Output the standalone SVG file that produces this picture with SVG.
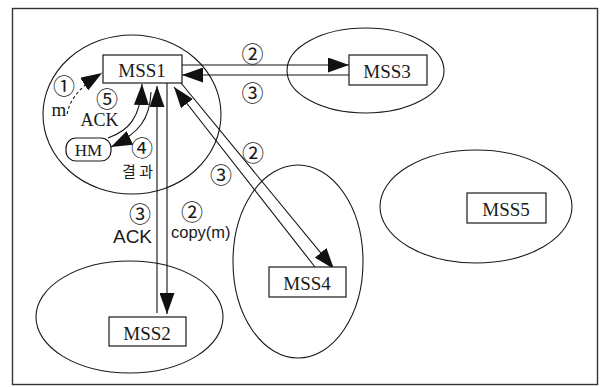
<svg xmlns="http://www.w3.org/2000/svg" width="604" height="387" viewBox="0 0 604 387">
  <style>
    .cell { fill: none; stroke: #1a1a1a; stroke-width: 1.1; }
    .box { fill: #fff; stroke: #1a1a1a; stroke-width: 1.2; }
    .pill { fill: #fff; stroke: #1a1a1a; stroke-width: 1.2; }
    .name { font-family: "Liberation Serif", "Times New Roman", serif; font-size: 19px; fill: #1a1a1a; text-anchor: middle; }
    .line { fill: none; stroke: #111; stroke-width: 1.1; }
    .dash { fill: none; stroke: #111; stroke-width: 1.1; stroke-dasharray: 3 2.5; }
    .num { font-family: "Noto Sans CJK KR", "DejaVu Sans", sans-serif; font-size: 22px; fill: #1a1a1a; text-anchor: middle; dominant-baseline: central; }
    .serif { font-family: "Liberation Serif", "Times New Roman", serif; fill: #1a1a1a; }
    .sans { font-family: "Liberation Sans", Arial, sans-serif; fill: #1a1a1a; }
    .kr { font-family: "Noto Sans CJK KR", sans-serif; font-size: 15px; fill: #1a1a1a; }
  </style>
  <defs>
    <marker id="head" markerUnits="userSpaceOnUse" markerWidth="21" markerHeight="15" refX="21" refY="7.5" orient="auto">
      <path d="M0,0 L21,7.5 L0,15 z" fill="#111"/>
    </marker>
  </defs>

  <rect width="604" height="387" fill="#fff"/>
  <!-- outer frame -->
  <rect x="12.5" y="8.5" width="585" height="376" fill="none" stroke="#333" stroke-width="1.4"/>

  <!-- cells -->
  <g id="cell-mss1"><ellipse class="cell" cx="132" cy="114.5" rx="89" ry="79.5"/></g>
  <g id="cell-mss3"><ellipse class="cell" cx="365.5" cy="70.5" rx="78.5" ry="42.5"/></g>
  <g id="cell-mss2"><ellipse class="cell" cx="129.5" cy="317" rx="93.5" ry="56"/></g>
  <g id="cell-mss4"><ellipse class="cell" cx="298" cy="261.5" rx="65" ry="96.5"/></g>
  <g id="cell-mss5"><ellipse class="cell" cx="476" cy="206.5" rx="96" ry="56.5"/></g>

  <!-- message flows -->
  <g id="connectors">
    <!-- MSS1 <-> MSS3 -->
    <line class="line" x1="182" y1="65" x2="349" y2="65" marker-end="url(#head)"/>
    <line class="line" x1="349" y1="75" x2="182" y2="75" marker-end="url(#head)"/>
    <!-- MSS1 <-> MSS2 -->
    <line class="line" x1="157" y1="313" x2="157" y2="86" marker-end="url(#head)"/>
    <line class="line" x1="167" y1="83" x2="167" y2="314" marker-end="url(#head)"/>
    <!-- MSS1 <-> MSS4 -->
    <line class="line" x1="181" y1="83" x2="334" y2="269" marker-end="url(#head)"/>
    <line class="line" x1="315" y1="267" x2="174" y2="87" marker-end="url(#head)"/>
    <!-- HM <-> MSS1 -->
    <path class="line" d="M108,138 C128,131 141,118 142,84" marker-end="url(#head)"/>
    <path class="line" d="M151,92 C150,118 140,133 111,147" marker-end="url(#head)"/>
    <!-- m into MSS1 -->
    <path class="dash" d="M67,114 C70,100 78,88 102,73" marker-end="url(#head)"/>
  </g>

  <!-- stations -->
  <g id="mss1"><rect class="box" x="103" y="55" width="79" height="28"/><text class="name" x="142" y="77">MSS1</text></g>
  <g id="mss3"><rect class="box" x="349" y="55" width="78" height="30"/><text class="name" x="387" y="78">MSS3</text></g>
  <g id="mss2"><rect class="box" x="109" y="317" width="77" height="29"/><text class="name" x="147" y="340">MSS2</text></g>
  <g id="mss4"><rect class="box" x="269" y="267" width="77" height="30"/><text class="name" x="307" y="290">MSS4</text></g>
  <g id="mss5"><rect class="box" x="467" y="193" width="79" height="30"/><text class="name" x="506" y="216">MSS5</text></g>
  <g id="hm"><rect class="pill" x="66" y="138" width="45" height="23" rx="10"/><text class="serif" x="88.5" y="156" font-size="17" text-anchor="middle">HM</text></g>

  <!-- labels -->
  <g id="labels">
    <text class="num" x="64" y="84">①</text>
    <text class="serif" x="59" y="116" font-size="19" text-anchor="middle">m</text>
    <text class="num" x="107" y="96.5">⑤</text>
    <text class="serif" x="99.5" y="126" font-size="18" text-anchor="middle">ACK</text>
    <text class="num" x="142" y="145.5">④</text>
    <text class="kr" x="122" y="177">결 과</text>
    <text class="num" x="252.5" y="51.5">②</text>
    <text class="num" x="252.5" y="91">③</text>
    <text class="num" x="253" y="151">②</text>
    <text class="num" x="221" y="173">③</text>
    <text class="num" x="140" y="212">③</text>
    <text class="sans" x="132.5" y="243" font-size="19" text-anchor="middle">ACK</text>
    <text class="num" x="192" y="209.5">②</text>
    <text class="sans" x="171" y="238" font-size="16.5">copy(m)</text>
  </g>
</svg>
